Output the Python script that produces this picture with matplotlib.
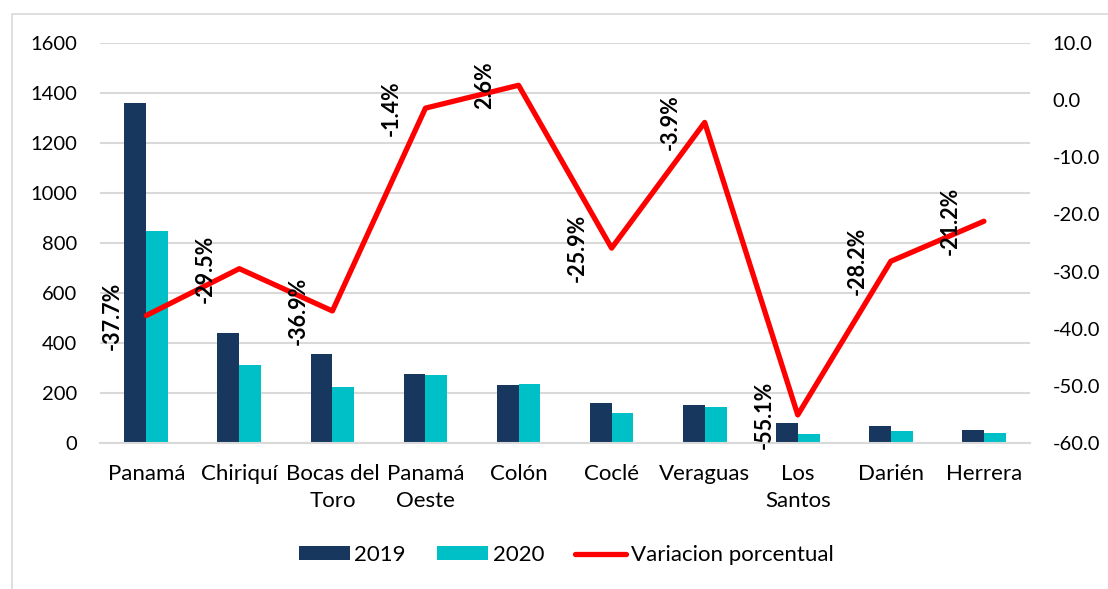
import numpy as np
import matplotlib.pyplot as plt
from matplotlib.patches import Rectangle

plt.rcParams['font.family'] = ['Lato', 'DejaVu Sans']

# Data
provincias = ['Panamá', 'Chiriquí', 'Bocas del\nToro', 'Panamá\nOeste', 'Colón',
              'Coclé', 'Veraguas', 'Los\nSantos', 'Darién', 'Herrera']
v2019 = [1360, 440, 355, 276, 230, 160, 150, 78, 69, 51]
v2020 = [848, 310, 224, 272, 236, 119, 144, 35, 49.5, 40]
variacion = [-37.7, -29.5, -36.9, -1.4, 2.6, -25.9, -3.9, -55.1, -28.2, -21.2]

x = np.arange(len(provincias))
w = 0.235

fig = plt.figure(figsize=(11.08, 5.89), dpi=100)
# chart area border (only left/top visible in the crop)
fig.patches.append(Rectangle((12 / 1108, -0.05), 1.2, 1.05 - 14 / 589,
                             transform=fig.transFigure, fill=False,
                             edgecolor='#D9D9D9', linewidth=1.2))
ax = fig.add_axes([0.090, 0.248, 0.840, 0.679])

ax.set_axisbelow(True)
ax.yaxis.grid(True, color='#D9D9D9', linewidth=1.5)
b1 = ax.bar(x - w / 2, v2019, w, color='#17375E', label='2019')
b2 = ax.bar(x + w / 2, v2020, w, color='#00C0C7', label='2020')
ax.set_ylim(0, 1600)
ax.set_yticks(range(0, 1601, 200))
ax.set_xlim(-0.5, len(provincias) - 0.5)
ax.set_xticks(x)
ax.set_xticklabels(provincias, fontsize=16, linespacing=1.45)
ax.tick_params(axis='both', length=0)
ax.tick_params(axis='y', labelsize=14.5, pad=16)
ax.tick_params(axis='x', pad=15)
for s in ['top', 'right', 'left']:
    ax.spines[s].set_visible(False)
ax.spines['bottom'].set_color('#D9D9D9')
ax.spines['bottom'].set_linewidth(1.5)

ax2 = ax.twinx()
ln, = ax2.plot(x, variacion, color='#FF0000', linewidth=3.8, label='Variacion porcentual',
               solid_capstyle='round')
ax2.set_ylim(-60, 10)
ax2.set_yticks(range(-60, 11, 10))
ax2.set_yticklabels([f'{v:.1f}' for v in range(-60, 11, 10)])
ax2.tick_params(axis='y', length=0, labelsize=14.5, pad=16)
for s in ax2.spines.values():
    s.set_visible(False)

for xi, v in zip(x, variacion):
    ax2.annotate(f'{v:.1f}%', (xi, v), xytext=(-34, 0), textcoords='offset pixels',
                 rotation=90, ha='center', va='center', fontsize=15.5, fontweight='bold')

fig.legend([b1, b2, ln], ['2019', '2020', 'Variacion porcentual'], loc='center',
           bbox_to_anchor=(0.511, 0.058), ncol=3, frameon=False, fontsize=16,
           handlelength=2.3, handleheight=0.55, columnspacing=1.4, handletextpad=0.2)

fig.savefig('out.png', dpi=100)
